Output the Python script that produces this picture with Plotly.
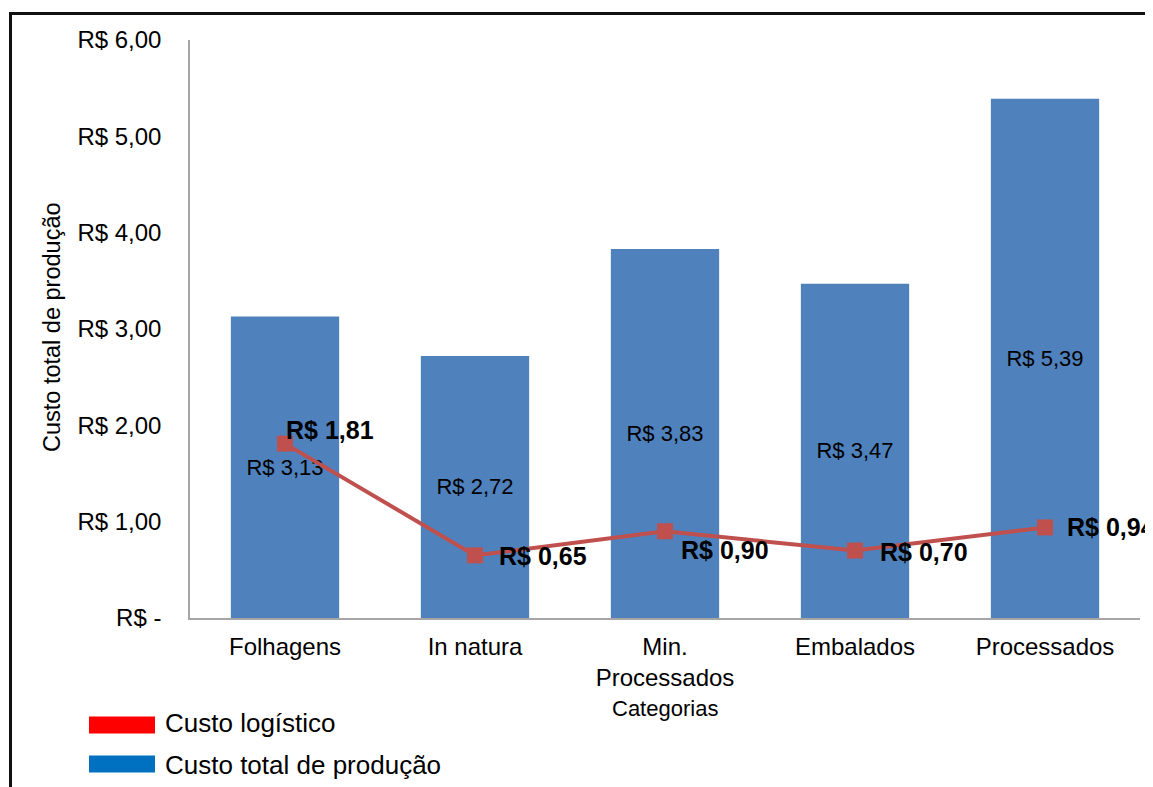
import plotly.graph_objects as go

categories = ["Folhagens", "In natura", "Min.<br>Processados", "Embalados", "Processados"]
custo_producao = [3.13, 2.72, 3.83, 3.47, 5.39]
custo_logistico = [1.81, 0.65, 0.90, 0.70, 0.94]
y_ticks = [0, 1, 2, 3, 4, 5, 6]

def brl(v):
    return "R$ " + f"{v:.2f}".replace(".", ",")

y_ticktext = ["R$ -" if t == 0 else brl(t) for t in y_ticks]

# page offset (default body margin) and pixel layout helpers
OX, OY = 8, 8
W, H = 1153 - OX, 787 - OY
L, T = 190 - OX, 40 - OY
R = W - (1140 - OX)
B = H - (618 - OY)
PW, PH = W - L - R, H - T - B
def px(x):
    return (x - OX - L) / PW
def py(y):
    return (H - B - (y - OY)) / PH

FONT = "Arial, Liberation Sans, sans-serif"
BAR_C = "#4F81BD"
LINE_C = "#C0504D"

fig = go.Figure()
fig.add_trace(go.Bar(
    x=categories, y=custo_producao, marker=dict(color=BAR_C, line=dict(width=0)),
    text=[brl(v) for v in custo_producao], textposition="inside",
    insidetextanchor="middle", textangle=0,
    textfont=dict(size=22, color="black", family=FONT),
    name="Custo total de produção", showlegend=False,
))
fig.add_trace(go.Scatter(
    x=categories, y=custo_logistico, mode="lines+markers",
    line=dict(color=LINE_C, width=4),
    marker=dict(symbol="square", size=16, color=LINE_C),
    name="Custo logístico", showlegend=False,
))

# label offsets (px) for line data labels
label_shift = [(-1, 14), (22, -1), (14, -19), (23, -1), (20, 0)]
for c, v, (dx, dy) in zip(categories, custo_logistico, label_shift):
    fig.add_annotation(x=c, y=v, text="<b>" + brl(v) + "</b>", showarrow=False,
                       xanchor="left", yanchor="middle", xshift=dx, yshift=dy,
                       font=dict(size=25, color="black", family=FONT))

# axis titles
fig.add_annotation(x=px(52), y=py(327), xref="paper", yref="paper",
                   text="Custo total de produção", textangle=-90, showarrow=False,
                   xanchor="center", yanchor="middle",
                   font=dict(size=23.5, color="black", family=FONT))
fig.add_annotation(x=px(665), y=py(708), xref="paper", yref="paper",
                   text="Categorias", showarrow=False, xanchor="center", yanchor="middle",
                   font=dict(size=22, color="black", family=FONT))

# legend (drawn manually)
legend_items = [("Custo logístico", "#FF0000", 725, 723), ("Custo total de produção", "#0070C0", 764, 765)]
for label, color, ys, yt in legend_items:
    fig.add_shape(type="rect", xref="paper", yref="paper",
                  x0=px(89), x1=px(155), y0=py(ys - 8.5), y1=py(ys + 8.5),
                  fillcolor=color, line=dict(width=0))
    fig.add_annotation(x=px(163), y=py(yt), xref="paper", yref="paper", text=label,
                       showarrow=False, xanchor="left", yanchor="middle",
                       font=dict(size=26, color="black", family=FONT))

# outer frame
fig.add_shape(type="rect", xref="paper", yref="paper",
              x0=px(10.5), x1=px(1175), y0=py(13.5), y1=py(820),
              line=dict(color="#111111", width=3), fillcolor="rgba(0,0,0,0)")

fig.update_layout(
    width=W, height=H, margin=dict(l=L, r=R, t=T, b=B),
    paper_bgcolor="white", plot_bgcolor="white",
    bargap=0.43, font=dict(family=FONT, color="black"),
    showlegend=False,
)
fig.update_xaxes(range=[-0.5, len(categories) - 0.5],
                 showline=True, linecolor="#A6A6A6", linewidth=1.5, ticks="",
                 tickfont=dict(size=24, color="black", family=FONT),
                 ticklabelstandoff=6, showgrid=False, zeroline=False)
fig.update_yaxes(range=[0, 6], tickvals=y_ticks, ticktext=y_ticktext,
                 showline=True, linecolor="#A6A6A6", linewidth=1.5, ticks="",
                 tickfont=dict(size=24, color="black", family=FONT),
                 ticklabelstandoff=22, showgrid=False, zeroline=False)

fig.write_html("out.html")
